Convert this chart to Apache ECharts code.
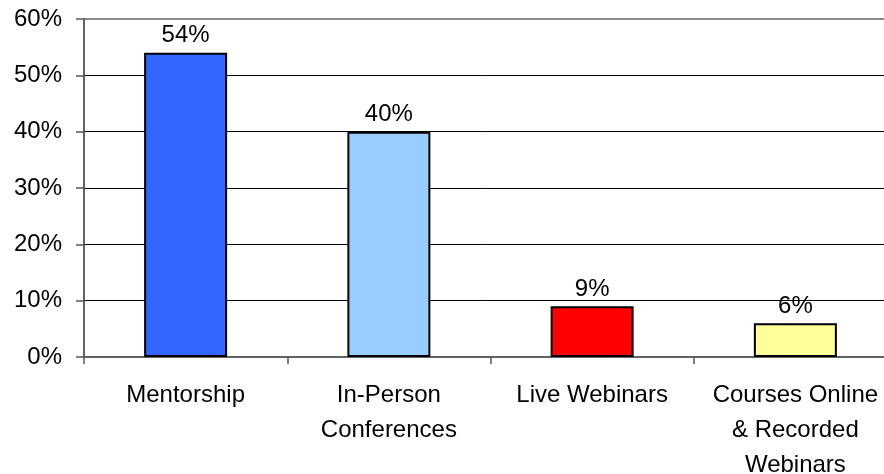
<!DOCTYPE html>
<html>
<head>
<meta charset="utf-8">
<style>
  html, body { margin: 0; padding: 0; background: #fff; }
  #chart { width: 884px; height: 474px; }
</style>
<script src="https://cdn.jsdelivr.net/npm/echarts@6/dist/echarts.min.js"></script>
</head>
<body>
<div id="chart"></div>
<script>
// Share of respondents by learning format (percent)
const categories = ['Mentorship', 'In-Person\nConferences', 'Live Webinars', 'Courses Online\n& Recorded\nWebinars'];
const values = [54, 40, 9, 6];
const barColors = ['#3366FF', '#99CCFF', '#FF0000', '#FFFF99'];
const yTicks = { min: 0, max: 60, step: 10 };

const FONT = '"Liberation Sans", Arial, Helvetica, sans-serif';

const chart = echarts.init(document.getElementById('chart'), null, { renderer: 'canvas' });

chart.setOption({
  animation: false,
  backgroundColor: '#ffffff',
  textStyle: { fontFamily: FONT },
  grid: {
    left: 84,
    top: 19,
    bottom: 117,
    width: 813,
    outerBoundsMode: 'none',
    containLabel: false,
    show: true,
    borderColor: '#8a8a8a',
    borderWidth: 2,
    backgroundColor: 'transparent'
  },
  xAxis: {
    type: 'category',
    data: categories,
    boundaryGap: true,
    axisLine: { show: true, lineStyle: { color: '#555', width: 1.5 } },
    axisTick: { show: true, length: 7, lineStyle: { color: '#555', width: 1.5 } },
    axisLabel: {
      interval: 0,
      fontFamily: FONT,
      fontSize: 24,
      color: '#000',
      lineHeight: 35,
      margin: 21
    }
  },
  yAxis: {
    type: 'value',
    min: yTicks.min,
    max: yTicks.max,
    interval: yTicks.step,
    axisLine: { show: true, lineStyle: { color: '#555', width: 1.5 } },
    axisTick: { show: true, length: 8, lineStyle: { color: '#555', width: 1.5 } },
    axisLabel: {
      formatter: '{value}%',
      fontFamily: FONT,
      fontSize: 24,
      color: '#000',
      margin: 22
    },
    splitLine: {
      show: true,
      showMinLine: false,
      showMaxLine: false,
      lineStyle: { color: '#000', width: 1 }
    }
  },
  series: [{
    type: 'bar',
    barWidth: 83,
    data: values.map((v, i) => ({
      value: v,
      itemStyle: { color: barColors[i] }
    })),
    itemStyle: { borderColor: '#000', borderWidth: 2 },
    label: {
      show: true,
      position: 'top',
      distance: 5,
      formatter: '{c}%',
      fontFamily: FONT,
      fontSize: 24,
      color: '#000'
    }
  }]
});
</script>
</body>
</html>
